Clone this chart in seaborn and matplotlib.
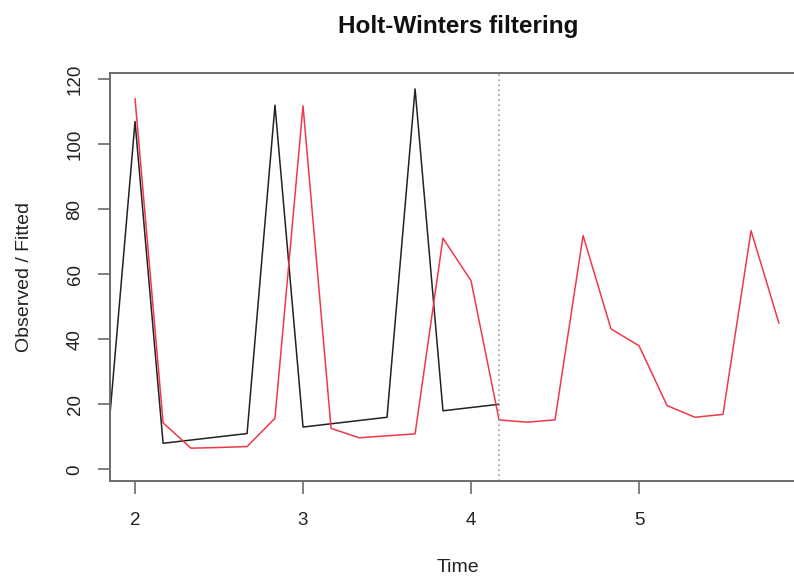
import matplotlib
matplotlib.use("Agg")
import matplotlib.pyplot as plt
import seaborn as sns
import pandas as pd

# ---- data ----
obs_time = [1.833, 2.0, 2.167, 2.333, 2.5, 2.667, 2.833, 3.0, 3.167, 3.333,
            3.5, 3.667, 3.833, 4.0, 4.167]
observed = [6, 107, 8, 9, 10, 11, 112, 13, 14, 15, 16, 117, 18, 19, 20]

fit_time = [2.0, 2.167, 2.333, 2.5, 2.667, 2.833, 3.0, 3.167, 3.333, 3.5,
            3.667, 3.833, 4.0, 4.167, 4.333, 4.5, 4.667, 4.833, 5.0, 5.167,
            5.333, 5.5, 5.667, 5.833]
fitted = [114, 14.3, 6.5, 6.7, 7.0, 15.7, 111.8, 12.6, 9.7, 10.3,
          10.9, 71.1, 58.0, 15.2, 14.5, 15.2, 71.9, 43.2, 38.0, 19.6,
          16.0, 16.9, 73.4, 44.9]

forecast_start = 4.167
x_ticks = [2, 3, 4, 5]
y_ticks = [0, 20, 40, 60, 80, 100, 120]

title = "Holt-Winters filtering"
xlabel = "Time"
ylabel = "Observed / Fitted"

# ---- style ----
sns.set_theme(style="white")
plt.rcParams["font.family"] = ["Liberation Sans", "DejaVu Sans"]

W, H = 794, 577
fig = plt.figure(figsize=(W / 100, H / 100), dpi=100)
left, right, top, bottom = 110, 806, 73, 481
ax = fig.add_axes([left / W, (H - bottom) / H, (right - left) / W, (bottom - top) / H])

df_obs = pd.DataFrame({"time": obs_time, "value": observed})
df_fit = pd.DataFrame({"time": fit_time, "value": fitted})

sns.lineplot(data=df_obs, x="time", y="value", ax=ax, color="#222222", lw=1.1)
sns.lineplot(data=df_fit, x="time", y="value", ax=ax, color="#f03848", lw=1.1)
ax.axvline(forecast_start, color="#a0a0a0", lw=1.2, ls=(0, (1, 2)))

ax.set_xlim(1.851, 5.994)
ax.set_ylim(-3.6, 121.9)
ax.set_xticks(x_ticks)
ax.set_yticks(y_ticks)
ax.set_xticklabels([str(t) for t in x_ticks])
ax.set_yticklabels([str(t) for t in y_ticks], rotation=90, va="center")

for s in ax.spines.values():
    s.set_color("#6a6a6a")
    s.set_linewidth(1.4)

ax.tick_params(axis="both", direction="out", length=9, width=1.2, color="#6a6a6a",
               labelsize=13.5, labelcolor="#222222")
ax.tick_params(axis="x", pad=13, bottom=True)
ax.tick_params(axis="y", pad=10, left=True)

ax.set_xlabel("")
ax.set_ylabel("")
fig.text((left + right) / 2 / W, 1 - 568 / H, xlabel, ha="center", va="center",
         fontsize=14, color="#222222")
fig.text(25 / W, 1 - 277 / H, ylabel, ha="center", va="center", rotation=90,
         fontsize=14, color="#222222")
fig.text((left + right) / 2 / W, 1 - 26 / H, title, ha="center", va="center",
         fontsize=17.5, fontweight="bold", color="#111111")

fig.savefig("out.png", dpi=100)
